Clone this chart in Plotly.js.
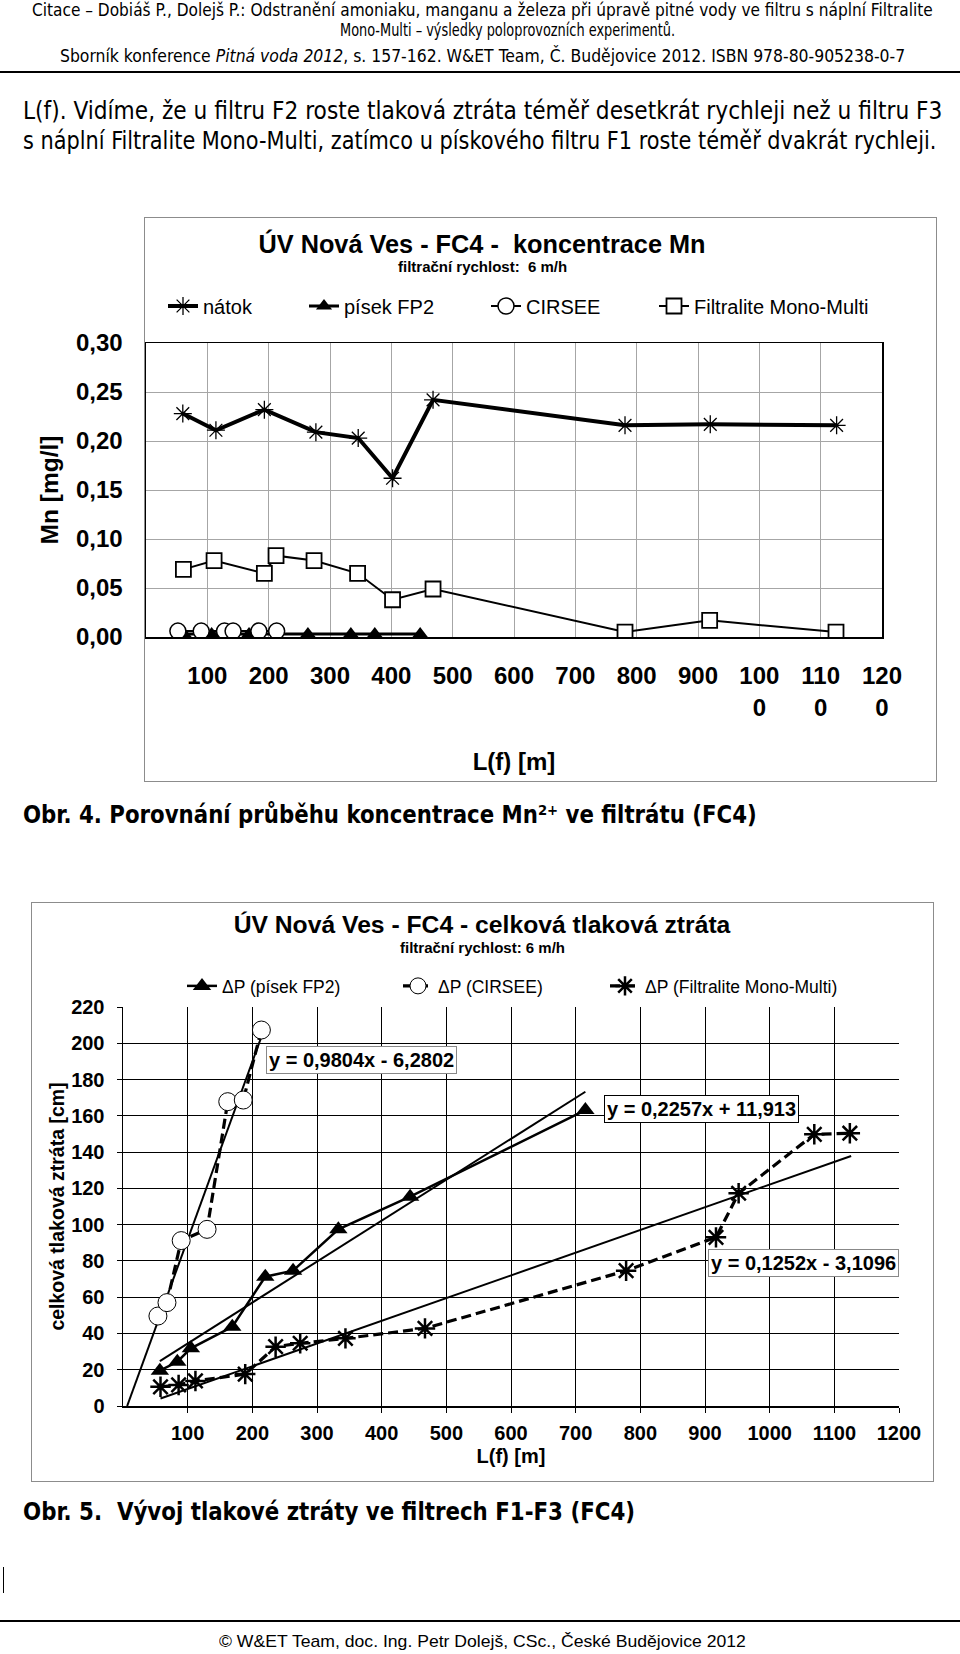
<!DOCTYPE html>
<html><head><meta charset="utf-8">
<script src="https://cdn.plot.ly/plotly-3.0.1.min.js"></script>
<style>
body{margin:0;background:#fff;width:960px;height:1654px;position:relative;overflow:hidden}
.t{position:absolute;white-space:nowrap;line-height:1;color:#000;transform-origin:0 50%}
.cond{font-family:"DejaVu Sans Condensed","DejaVu Sans",sans-serif;font-stretch:condensed}
.ar{font-family:"Liberation Sans",Arial,sans-serif}
.rule{position:absolute;left:0;width:960px;background:#000}
.box{position:absolute;box-sizing:border-box;border:1px solid #8c8c8c}
.plot{position:absolute;left:0;width:960px;height:600px}
sup{font-size:0.62em;vertical-align:0.55em;line-height:0}
</style></head><body>

<div class="t cond" data-x="482" data-y="10" data-w="901" data-a="m" style="font-size:17px">Citace – Dobiáš P., Dolejš P.: Odstranění amoniaku, manganu a železa při úpravě pitné vody ve filtru s náplní Filtralite</div>
<div class="t cond" data-x="507" data-y="30" data-w="335" data-a="m" style="font-size:17px">Mono-Multi – výsledky poloprovozních experimentů.</div>
<div class="t cond" data-x="482" data-y="56" data-w="845" data-a="m" style="font-size:17px">Sborník konference <i>Pitná voda 2012</i>, s. 157-162. W&amp;ET Team, Č. Budějovice 2012. ISBN 978-80-905238-0-7</div>
<div class="rule" style="top:71px;height:2px"></div>

<div class="t cond" data-x="23" data-y="111" data-w="919" style="font-size:24px">L(f). Vidíme, že u filtru F2 roste tlaková ztráta téměř desetkrát rychleji než u filtru F3</div>
<div class="t cond" data-x="23" data-y="141" data-w="913" style="font-size:24px">s náplní Filtralite Mono-Multi, zatímco u pískového filtru F1 roste téměř dvakrát rychleji.</div>

<div class="box" style="left:144px;top:217px;width:793px;height:565px"></div>
<div id="c1" class="plot" style="top:200px"></div>

<div class="t cond" data-x="23" data-y="815" data-w="734" style="font-size:24px;font-weight:bold">Obr. 4. Porovnání průběhu koncentrace Mn<sup>2+</sup> ve filtrátu (FC4)</div>

<div class="box" style="left:31px;top:902px;width:903px;height:580px"></div>
<div id="c2" class="plot" style="top:895px"></div>

<div class="t cond" data-x="23" data-y="1512" data-w="612" style="font-size:24px;font-weight:bold">Obr. 5.&nbsp; Vývoj tlakové ztráty ve filtrech F1-F3 (FC4)</div>

<div style="position:absolute;left:3px;top:1567px;width:1px;height:26px;background:#000"></div>
<div class="rule" style="top:1620px;height:2px"></div>
<div class="t ar" data-x="482" data-y="1641" data-w="527" data-a="m" style="font-size:17px">© W&amp;ET Team, doc. Ing. Petr Dolejš, CSc., České Budějovice 2012</div>

<script>
// ---------- Chart 1: koncentrace Mn ----------
const c1_natok_x = [60, 114, 193, 277, 346, 402, 468, 781, 920, 1126];
const c1_natok_y = [0.228, 0.211, 0.232, 0.209, 0.203, 0.162, 0.242, 0.216, 0.217, 0.216];
const c1_pisek_x = [62, 107, 168, 264, 334, 373, 447];
const c1_pisek_y = [0.003, 0.003, 0.003, 0.003, 0.003, 0.003, 0.003];
const c1_cirsee_x = [52, 90, 128, 142, 184, 213];
const c1_cirsee_y = [0.006, 0.006, 0.006, 0.006, 0.006, 0.006];
const c1_filt_x = [61, 111, 193, 212, 274, 345, 402, 468, 781, 919, 1125];
const c1_filt_y = [0.069, 0.078, 0.065, 0.083, 0.078, 0.065, 0.038, 0.049, 0.005, 0.017, 0.005];
const c1_names = ['nátok', 'písek FP2', 'CIRSEE', 'Filtralite Mono-Multi'];
const c1_tickvals = [100, 200, 300, 400, 500, 600, 700, 800, 900, 1000, 1100, 1200];
const c1_ticktext = ['100', '200', '300', '400', '500', '600', '700', '800', '900', '100<br>0', '110<br>0', '120<br>0'];

// ---------- Chart 2: celková tlaková ztráta ----------
const c2_pisek_x = [57, 84, 105, 169, 220, 263, 333, 444, 715];
const c2_pisek_y = [19.5, 24.4, 31.8, 43.7, 71.3, 74.6, 97.4, 115.4, 163.2];
const c2_cirsee_x = [54, 68, 90, 130, 162, 186, 214];
const c2_cirsee_y = [49.6, 57, 91.2, 97.4, 167.8, 168.7, 207.3];
const c2_filt_x = [58, 86, 112, 189, 236, 274, 344, 467, 778, 917, 952, 1069, 1124];
const c2_filt_y = [10.6, 11.6, 13.8, 17.6, 32.7, 34.6, 37.3, 42.8, 74.6, 93, 117.3, 149.8, 150.4];
const c2_names = ['ΔP (písek FP2)', 'ΔP (CIRSEE)', 'ΔP (Filtralite Mono-Multi)'];
// linear trend lines (slope, intercept) as printed in the chart, and their x extent
const c2_trend_slope = [0.2257, 0.9804, 0.1252];
const c2_trend_icpt = [11.913, -6.2802, -3.1096];
const c2_trend_x0 = [57, 6.4, 58];
const c2_trend_x1 = [715, 213, 1126];
const c2_trend_text = ['y = 0,2257x + 11,913', 'y = 0,9804x - 6,2802', 'y = 0,1252x - 3,1096'];
const c2_trend_lab_x = [894, 369, 1053];
const c2_trend_lab_y = [164, 191, 79];
const c2_tickvals_x = [100, 200, 300, 400, 500, 600, 700, 800, 900, 1000, 1100, 1200];
const c2_tickvals_y = [0, 20, 40, 60, 80, 100, 120, 140, 160, 180, 200, 220];

const AR = '"Liberation Sans", Arial, sans-serif';
const ARB = '"Liberation Sans", Arial, sans-serif';

function leg(xpx, ypx, size){
  return {orientation:'h', xref:'container', yref:'container', x:xpx/960, y:ypx, xanchor:'left', yanchor:'middle',
          bgcolor:'rgba(0,0,0,0)', borderwidth:0, font:{family:AR, size:size, color:'#000'}};
}

// ----- chart 1 -----
const t1 = [
  {x:c1_pisek_x, y:c1_pisek_y, name:c1_names[1], mode:'lines+markers', legend:'legend2',
   line:{color:'#000', width:3}, marker:{symbol:'triangle-up', size:14, color:'#000'}},
  {x:c1_cirsee_x, y:c1_cirsee_y, name:c1_names[2], mode:'lines+markers', legend:'legend3',
   line:{color:'#000', width:2}, marker:{symbol:'circle', size:16, color:'#fff', line:{color:'#000', width:1.5}}},
  {x:c1_filt_x, y:c1_filt_y, name:c1_names[3], mode:'lines+markers', legend:'legend4',
   line:{color:'#000', width:2}, marker:{symbol:'square', size:15, color:'#fff', line:{color:'#000', width:1.8}}},
  {x:c1_natok_x, y:c1_natok_y, name:c1_names[0], mode:'lines+markers', legend:'legend',
   line:{color:'#000', width:4}, marker:{symbol:'asterisk-open', size:15, color:'#000', line:{color:'#000', width:1.3}}}
];
const ly1 = {
  width:960, height:600, paper_bgcolor:'rgba(0,0,0,0)', plot_bgcolor:'#fff',
  margin:{l:145.7, r:77.7, t:143, b:163}, separators:', ', showlegend:true,
  font:{family:AR, color:'#000'},
  title:{text:'<b>ÚV Nová Ves - FC4 -  koncentrace Mn</b>', font:{family:ARB, size:25.3, color:'#000'},
         xref:'container', x:482/960, xanchor:'center', yref:'container', y:1-44/600, yanchor:'middle'},
  legend:leg(163, 1-106/600, 20), legend2:leg(304, 1-106/600, 20),
  legend3:leg(486, 1-106/600, 20), legend4:leg(654, 1-106/600, 20),
  xaxis:{range:[0,1200], tickvals:c1_tickvals, ticktext:c1_ticktext, showgrid:true, gridcolor:'#a6a6a6', gridwidth:1,
         showline:true, linecolor:'#000', linewidth:1.5, mirror:true, ticks:'', zeroline:false,
         tickfont:{family:ARB, size:24, color:'#000', weight:'bold'}, ticklabelstandoff:17,
         title:{text:'<b>L(f) [m]</b>', font:{family:ARB, size:24, color:'#000'}, standoff:33}},
  yaxis:{range:[0,0.30], dtick:0.05, tickformat:'.2f', showgrid:true, gridcolor:'#a6a6a6', gridwidth:1,
         showline:true, linecolor:'#000', linewidth:1.5, mirror:true, ticks:'', zeroline:false,
         tickfont:{family:ARB, size:24, color:'#000', weight:'bold'}, ticklabelstandoff:17,
         title:{text:'<b>Mn [mg/l]</b>', font:{family:ARB, size:24.5, color:'#000'}, standoff:10}},
  annotations:[{text:'<b>filtrační rychlost:  6 m/h</b>', xref:'paper', yref:'paper', x:(482-145.7)/736.6, y:(637-267)/294,
                showarrow:false, xanchor:'center', yanchor:'middle', font:{family:ARB, size:15, color:'#000'}}]
};

// ----- chart 2 -----
const t2 = [];
for (let i = 0; i < 3; i++) {
  const xs = [c2_trend_x0[i], c2_trend_x1[i]];
  t2.push({x:xs, y:xs.map(v => c2_trend_slope[i]*v + c2_trend_icpt[i]), mode:'lines', showlegend:false,
           line:{color:'#000', width:2}, hoverinfo:'skip'});
}
t2.push({x:c2_pisek_x, y:c2_pisek_y, name:c2_names[0], mode:'lines+markers', legend:'legend',
         line:{color:'#000', width:2.5}, marker:{symbol:'triangle-up', size:16, color:'#000'}});
t2.push({x:c2_cirsee_x, y:c2_cirsee_y, name:c2_names[1], mode:'lines+markers', legend:'legend2',
         line:{color:'#000', width:3.2, dash:'10px,5px'}, marker:{symbol:'circle', size:18, color:'#fff', line:{color:'#000', width:1}}});
t2.push({x:c2_filt_x, y:c2_filt_y, name:c2_names[2], mode:'lines+markers', legend:'legend3',
         line:{color:'#000', width:3.2, dash:'10px,5px'}, marker:{symbol:'asterisk-open', size:17, color:'#000', line:{color:'#000', width:2.5}}});

const ann2 = [{text:'<b>filtrační rychlost: 6 m/h</b>', xref:'paper', yref:'paper', x:(482-122.5)/776.2, y:(1406-947)/399,
               showarrow:false, xanchor:'center', yanchor:'middle', font:{family:ARB, size:15, color:'#000'}}];
for (let i = 0; i < 3; i++) {
  ann2.push({text:'<b>'+c2_trend_text[i]+'</b>', x:c2_trend_lab_x[i], y:c2_trend_lab_y[i], xref:'x', yref:'y',
             showarrow:false, xanchor:'center', yanchor:'middle', bgcolor:'#fff',
             bordercolor: i === 0 ? '#000' : '#888', borderwidth:1, borderpad:2,
             font:{family:ARB, size:20, color:'#000'}});
}
const ly2 = {
  width:960, height:600, paper_bgcolor:'rgba(0,0,0,0)', plot_bgcolor:'#fff',
  margin:{l:122.5, r:61.3, t:112, b:89}, showlegend:true, font:{family:AR, color:'#000'},
  title:{text:'<b>ÚV Nová Ves - FC4 - celková tlaková ztráta</b>', font:{family:ARB, size:24.7, color:'#000'},
         xref:'container', x:482/960, xanchor:'center', yref:'container', y:1-29/600, yanchor:'middle'},
  legend:leg(182, 1-91/600, 17.5), legend2:leg(398, 1-91/600, 17.5), legend3:leg(605, 1-91/600, 17.5),
  xaxis:{range:[0,1200], tickvals:c2_tickvals_x, showgrid:true, gridcolor:'#000', gridwidth:1,
         showline:true, linecolor:'#000', linewidth:1.5, ticks:'outside', ticklen:5, tickcolor:'#000', zeroline:false,
         tickfont:{family:ARB, size:20, color:'#000', weight:'bold'}, ticklabelstandoff:3,
         title:{text:'<b>L(f) [m]</b>', font:{family:ARB, size:20, color:'#000'}, standoff:6}},
  yaxis:{range:[0,220], tickvals:c2_tickvals_y, showgrid:true, gridcolor:'#000', gridwidth:1,
         showline:true, linecolor:'#000', linewidth:1.5, ticks:'outside', ticklen:5, tickcolor:'#000', zeroline:false,
         tickfont:{family:ARB, size:20, color:'#000', weight:'bold'}, ticklabelstandoff:8,
         title:{text:'<b>celková tlaková ztráta [cm]</b>', font:{family:ARB, size:19.5, color:'#000'}, standoff:1}},
  annotations:ann2
};

const cfg = {displayModeBar:false, staticPlot:true};
Plotly.newPlot('c1', t1, ly1, cfg);
Plotly.newPlot('c2', t2, ly2, cfg);

// ---------- position html text lines ----------
function placeText(){
  document.querySelectorAll('.t').forEach(el => {
    el.style.transform = 'none';
    const w0 = el.offsetWidth, h = el.offsetHeight;
    const tw = parseFloat(el.dataset.w);
    const x = parseFloat(el.dataset.x), y = parseFloat(el.dataset.y);
    const s = tw / w0;
    el.style.left = (el.dataset.a === 'm' ? x - tw/2 : x) + 'px';
    el.style.top = (y - h/2) + 'px';
    el.style.transform = 'scaleX(' + s + ')';
  });
}
placeText();
if (document.fonts && document.fonts.ready) document.fonts.ready.then(placeText);
</script>
</body></html>
